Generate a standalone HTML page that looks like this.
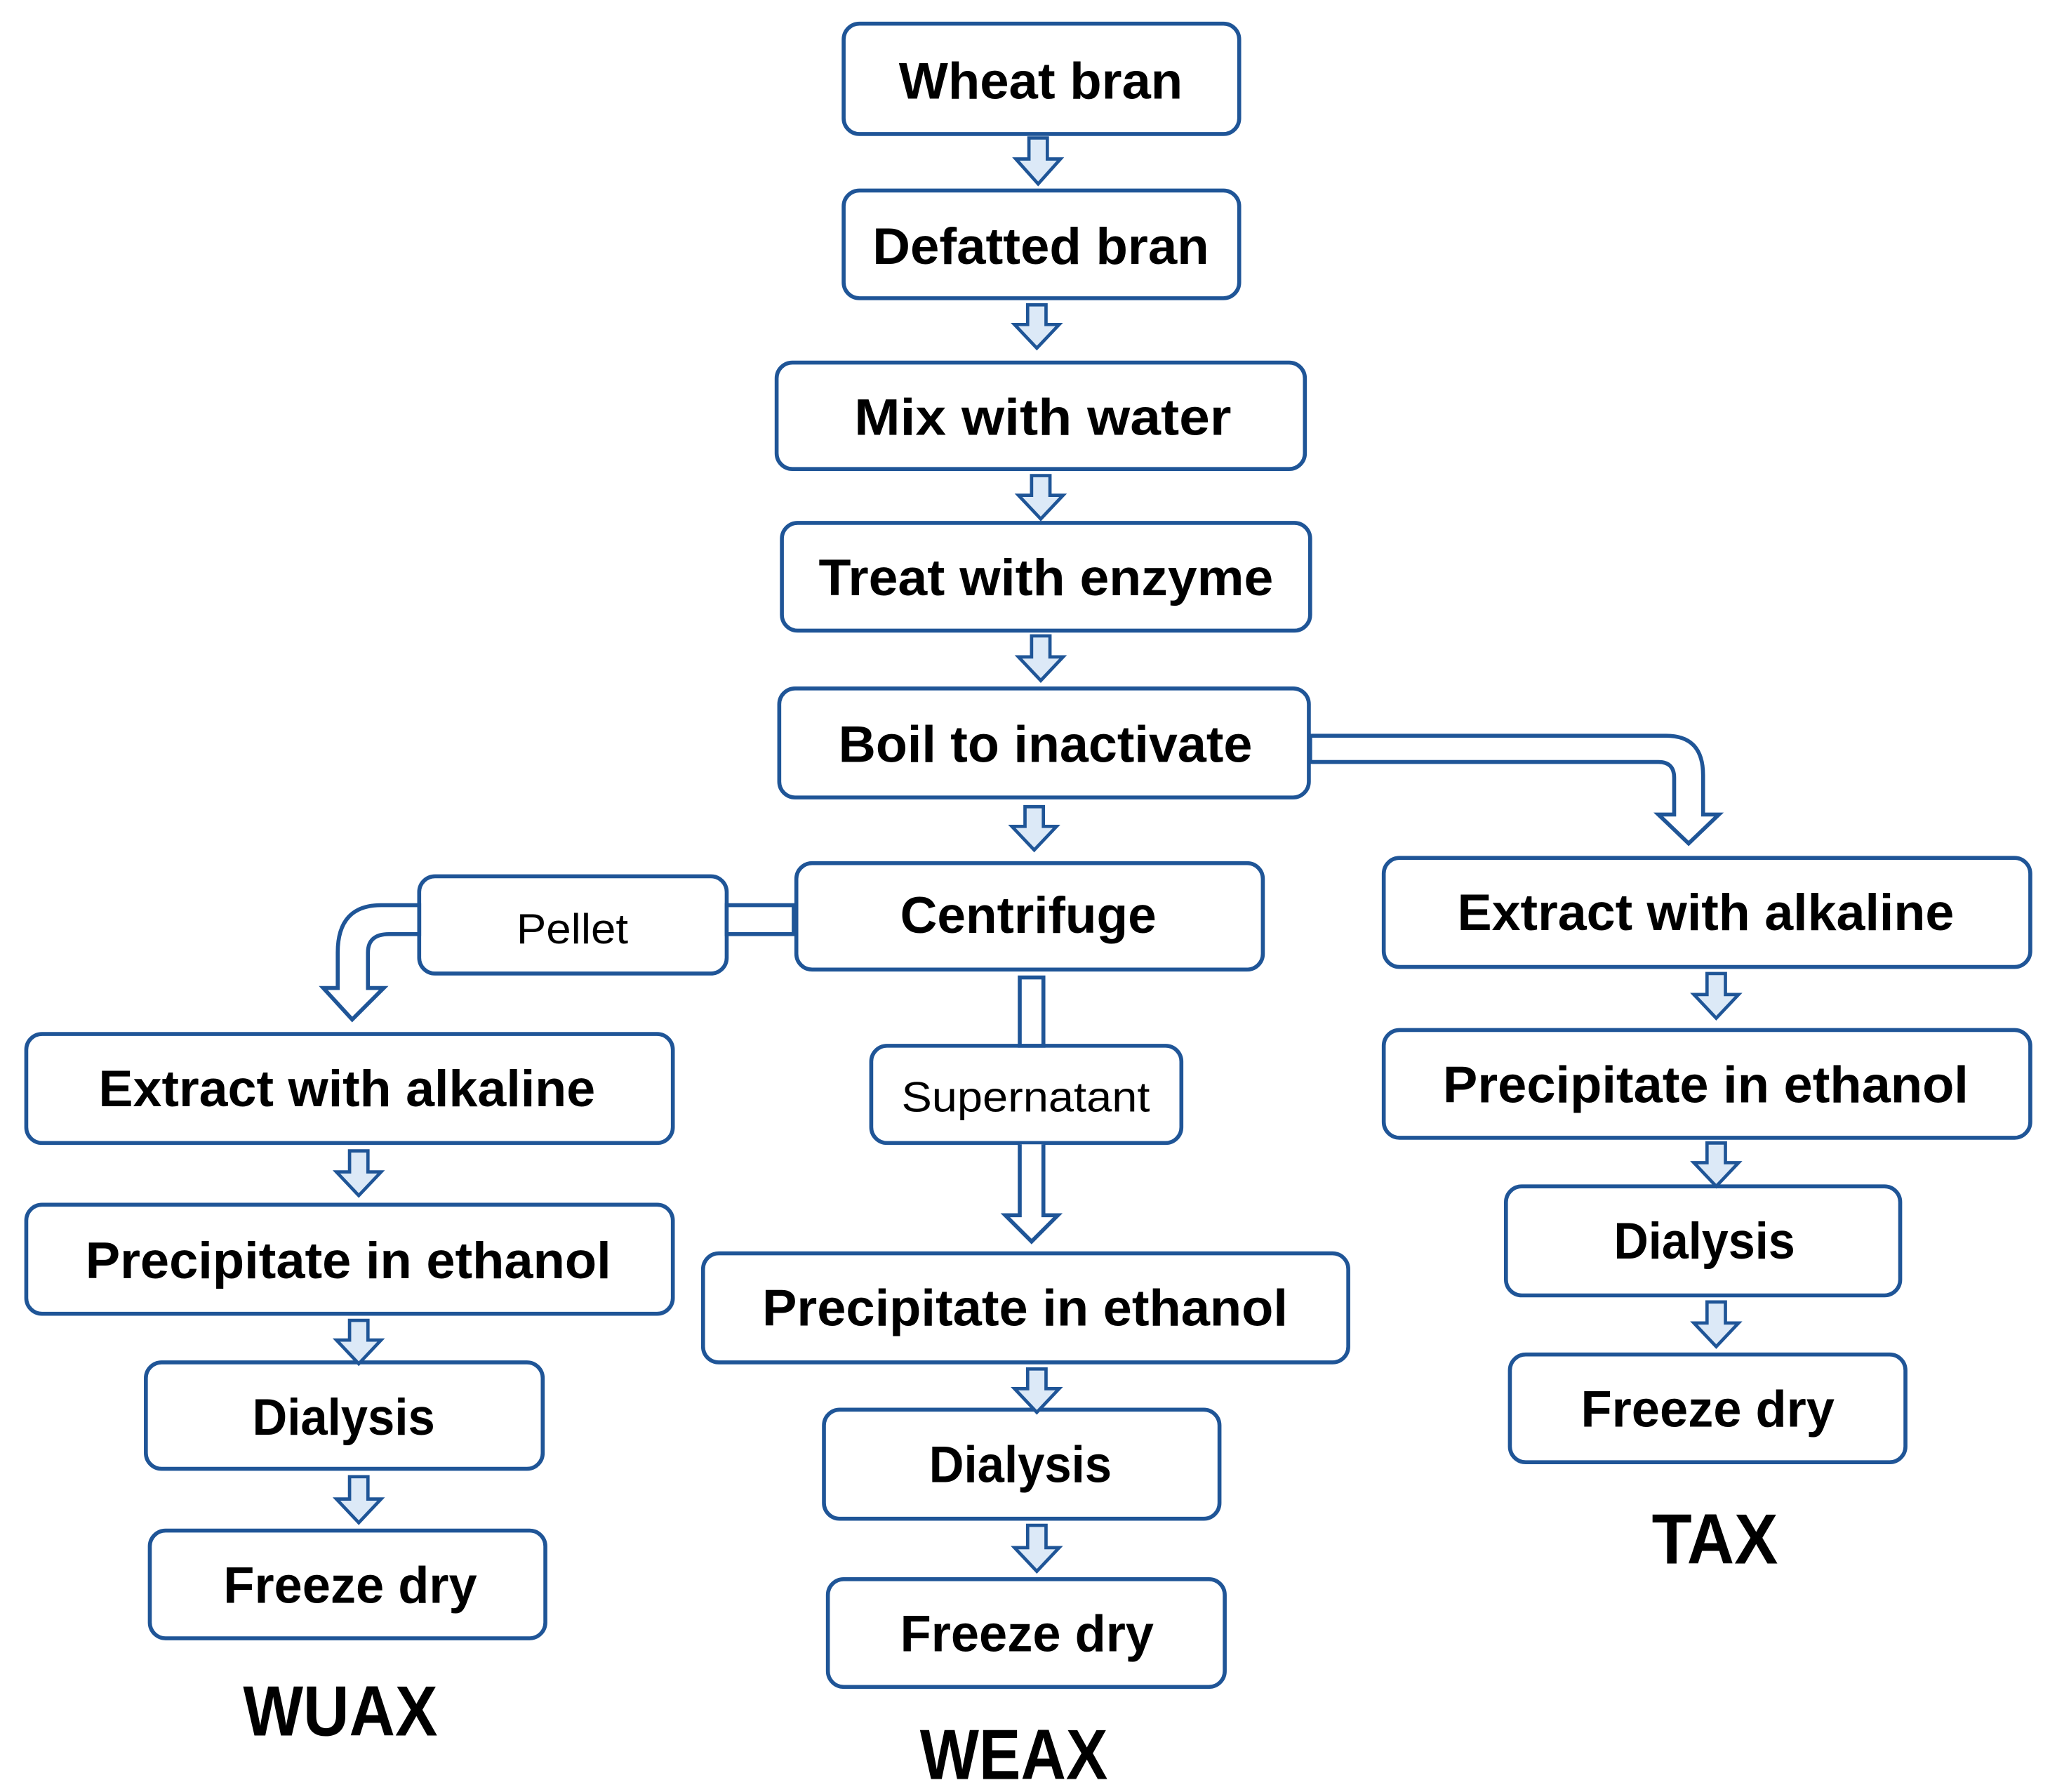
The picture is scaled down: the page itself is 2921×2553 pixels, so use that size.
<!DOCTYPE html>
<html><head><meta charset="utf-8"><style>
html,body{margin:0;padding:0;background:#fff}
svg{display:block}
text{font-family:"Liberation Sans",sans-serif;fill:#000}
.b{font-weight:bold;font-size:39px}
.n{font-size:32px}
.L{font-size:54px;font-weight:bold}
</style></head><body>
<svg width="2921" height="2553" viewBox="0 0 1560 1364" preserveAspectRatio="none" xmlns="http://www.w3.org/2000/svg">
<g fill="#fff" stroke="#1f5597" stroke-width="3">
<rect x="642" y="18" width="301" height="84" rx="12"/>
<rect x="642" y="145" width="301" height="82" rx="12"/>
<rect x="591" y="276" width="402" height="81" rx="12"/>
<rect x="595" y="398" width="402" height="82" rx="12"/>
<rect x="593" y="524" width="403" height="83" rx="12"/>
<rect x="606" y="657" width="355" height="81" rx="12"/>
<rect x="319" y="667" width="234" height="74" rx="12"/>
<rect x="1053" y="653" width="492" height="83" rx="12"/>
<rect x="1053" y="784" width="492" height="82" rx="12"/>
<rect x="1146" y="903" width="300" height="83" rx="12"/>
<rect x="1149" y="1031" width="301" height="82" rx="12"/>
<rect x="20" y="787" width="492" height="83" rx="12"/>
<rect x="20" y="917" width="492" height="83" rx="12"/>
<rect x="111" y="1037" width="302" height="81" rx="12"/>
<rect x="114" y="1165" width="301" height="82" rx="12"/>
<rect x="663" y="796" width="236" height="74" rx="12"/>
<rect x="535" y="954" width="491" height="83" rx="12"/>
<rect x="627" y="1073" width="301" height="83" rx="12"/>
<rect x="630" y="1202" width="302" height="82" rx="12"/>
<path d="M553 689 H604 V711 H553 Z"/>
<path d="M997 560 H1268 Q1296 560 1296 590 V620 H1308 L1285 642 L1262 620 H1274 V592 Q1274 580 1262 580 H997 Z"/>
<path d="M319 689 H290 Q257 689 257 725 V752 H246 L268 776 L292 752 H280 V725 Q280 711 296 711 H319 Z"/>
<rect x="776" y="744" width="18" height="52"/>
<path d="M776 871 V925 H765 L785 945 L805 925 H794 V871"/>
</g>
<g fill="#dce9f7" stroke="#1f5597" stroke-width="2.5">
<path d="M783 105 h14 v16 h10 l-17 19 l-17 -19 h10 z"/>
<path d="M782 232 h14 v15 h10 l-17 18 l-17 -18 h10 z"/>
<path d="M785 362 h14 v15 h10 l-17 18 l-17 -18 h10 z"/>
<path d="M785 484 h14 v16 h10 l-17 18 l-17 -18 h10 z"/>
<path d="M780 614 h14 v15 h10 l-17 18 l-17 -18 h10 z"/>
<path d="M1299 741 h14 v16 h10 l-17 18 l-17 -18 h10 z"/>
<path d="M1299 870 h14 v15 h10 l-17 18 l-17 -18 h10 z"/>
<path d="M1299 991 h14 v16 h10 l-17 18 l-17 -18 h10 z"/>
<path d="M266 876 h14 v16 h10 l-17 18 l-17 -18 h10 z"/>
<path d="M266 1005 h14 v15 h10 l-17 18 l-17 -18 h10 z"/>
<path d="M266 1124 h14 v17 h10 l-17 18 l-17 -18 h10 z"/>
<path d="M782 1042 h14 v15 h10 l-17 18 l-17 -18 h10 z"/>
<path d="M782 1161 h14 v17 h10 l-17 18 l-17 -18 h10 z"/>
</g>
<g class="b">
<text x="684" y="75" textLength="216" lengthAdjust="spacingAndGlyphs">Wheat bran</text>
<text x="664" y="201" textLength="256" lengthAdjust="spacingAndGlyphs">Defatted bran</text>
<text x="650" y="331" textLength="287" lengthAdjust="spacingAndGlyphs">Mix with water</text>
<text x="623" y="453" textLength="346" lengthAdjust="spacingAndGlyphs">Treat with enzyme</text>
<text x="638" y="580" textLength="315" lengthAdjust="spacingAndGlyphs">Boil to inactivate</text>
<text x="685" y="710" textLength="195" lengthAdjust="spacingAndGlyphs">Centrifuge</text>
<text x="1109" y="708" textLength="378" lengthAdjust="spacingAndGlyphs">Extract with alkaline</text>
<text x="1098" y="839" textLength="400" lengthAdjust="spacingAndGlyphs">Precipitate in ethanol</text>
<text x="1228" y="958" textLength="138" lengthAdjust="spacingAndGlyphs">Dialysis</text>
<text x="1203" y="1086" textLength="193" lengthAdjust="spacingAndGlyphs">Freeze dry</text>
<text x="75" y="842" textLength="378" lengthAdjust="spacingAndGlyphs">Extract with alkaline</text>
<text x="65" y="973" textLength="400" lengthAdjust="spacingAndGlyphs">Precipitate in ethanol</text>
<text x="192" y="1092" textLength="139" lengthAdjust="spacingAndGlyphs">Dialysis</text>
<text x="170" y="1220" textLength="193" lengthAdjust="spacingAndGlyphs">Freeze dry</text>
<text x="580" y="1009" textLength="400" lengthAdjust="spacingAndGlyphs">Precipitate in ethanol</text>
<text x="707" y="1128" textLength="139" lengthAdjust="spacingAndGlyphs">Dialysis</text>
<text x="685" y="1257" textLength="193" lengthAdjust="spacingAndGlyphs">Freeze dry</text>
</g>
<text class="n" x="393" y="718" textLength="85" lengthAdjust="spacingAndGlyphs">Pellet</text>
<text class="n" x="686" y="846" textLength="189" lengthAdjust="spacingAndGlyphs">Supernatant</text>
<text class="L" x="1257" y="1190" textLength="96" lengthAdjust="spacingAndGlyphs">TAX</text>
<text class="L" x="185" y="1321" textLength="148" lengthAdjust="spacingAndGlyphs">WUAX</text>
<text class="L" x="700" y="1354" textLength="143" lengthAdjust="spacingAndGlyphs">WEAX</text>
</svg>
</body></html>
